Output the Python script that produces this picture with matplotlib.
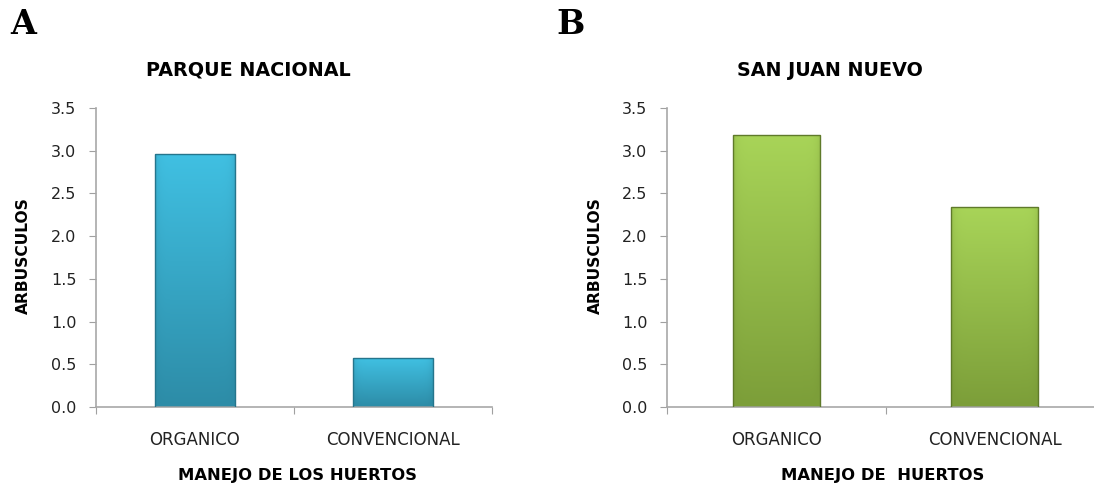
import numpy as np
import matplotlib.pyplot as plt
from matplotlib.colors import LinearSegmentedColormap

# datos
categorias = ['ORGANICO', 'CONVENCIONAL']
parque_nacional = [2.96, 0.57]
san_juan_nuevo = [3.18, 2.34]
yticks = [0.0, 0.5, 1.0, 1.5, 2.0, 2.5, 3.0, 3.5]

plt.rcParams['font.family'] = ['DejaVu Sans']

fig = plt.figure(figsize=(10.94, 4.86), dpi=100)
W, H = 1094, 486


def px_axes(x0, x1, ytop, ybot):
    return fig.add_axes([x0 / W, 1 - ybot / H, (x1 - x0) / W, (ybot - ytop) / H])


def panel(ax, valores, c_top, c_bot, c_edge):
    x = np.arange(len(categorias))
    bars = ax.bar(x, valores, width=0.4, color='none', edgecolor=c_edge,
                  linewidth=1.0, zorder=3)
    cmap = LinearSegmentedColormap.from_list('g', [c_bot, c_top])
    # sombreado vertical con bordes laterales un poco mas oscuros
    v = np.linspace(0, 1, 256).reshape(-1, 1)
    h = np.linspace(-1, 1, 64).reshape(1, -1)
    grad = v * (1 - 0.2 * np.abs(h) ** 10) - 0.1 * np.abs(h) ** 12
    grad = np.clip(grad, 0, 1)
    for b in bars:
        bx, by = b.get_x(), b.get_y()
        bw, bh = b.get_width(), b.get_height()
        im = ax.imshow(grad, cmap=cmap, origin='lower', aspect='auto',
                       extent=[bx, bx + bw, by, by + bh], zorder=2,
                       vmin=0, vmax=1)
        im.set_clip_path(b)
    ax.set_xlim(-0.5, len(categorias) - 0.5)
    ax.set_ylim(0, 3.5)
    ax.set_yticks(yticks)
    ax.set_yticklabels([f'{v:.1f}' for v in yticks])
    ax.set_xticks(np.arange(len(categorias) + 1) - 0.5)
    ax.set_xticklabels([])
    ax.set_xticks(x, minor=True)
    ax.set_xticklabels(categorias, minor=True)
    ax.tick_params(axis='x', which='minor', length=0, pad=17,
                   labelsize=12, labelcolor='#222222')
    ax.tick_params(axis='x', which='major', length=5, color='#a0a0a0')
    ax.tick_params(axis='y', length=5, color='#a0a0a0', labelsize=11.5,
                   labelcolor='#222222', pad=9)
    for s in ['top', 'right']:
        ax.spines[s].set_visible(False)
    for s in ['left', 'bottom']:
        ax.spines[s].set_color('#a8a8a8')
        ax.spines[s].set_linewidth(1.2)


ax1 = px_axes(96, 492, 108, 407)
panel(ax1, parque_nacional, '#40c0e2', '#2d8ca7', '#25758c')
ax2 = px_axes(667, 1104, 108, 407)
panel(ax2, san_juan_nuevo, '#a8d458', '#7c9e39', '#5f7a2a')

fig.text(248 / W, 1 - 70 / H, 'PARQUE NACIONAL', ha='center', va='center',
         fontsize=13.8, fontweight='bold')
fig.text(830 / W, 1 - 70 / H, 'SAN JUAN NUEVO', ha='center', va='center',
         fontsize=13.8, fontweight='bold')
fig.text(23 / W, 1 - 256 / H, 'ARBUSCULOS', rotation=90, ha='center',
         va='center', fontsize=11.2, fontweight='bold')
fig.text(595 / W, 1 - 256 / H, 'ARBUSCULOS', rotation=90, ha='center',
         va='center', fontsize=11.2, fontweight='bold')
fig.text(297 / W, 1 - 475 / H, 'MANEJO DE LOS HUERTOS', ha='center',
         va='center', fontsize=11.8, fontweight='bold')
fig.text(883 / W, 1 - 475 / H, 'MANEJO DE  HUERTOS', ha='center',
         va='center', fontsize=11.8, fontweight='bold')
fig.text(23 / W, 1 - 25 / H, 'A', ha='center', va='center', fontsize=24,
         fontweight='bold', family='DejaVu Serif')
fig.text(571 / W, 1 - 25 / H, 'B', ha='center', va='center', fontsize=24,
         fontweight='bold', family='DejaVu Serif')

fig.savefig('out.png', dpi=100)
